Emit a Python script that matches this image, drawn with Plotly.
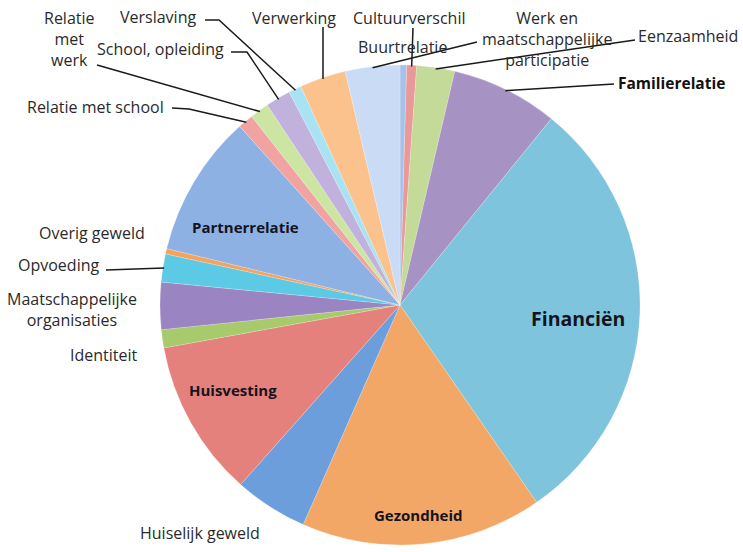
import math
import plotly.graph_objects as go

# ---- data (slice sizes, in degrees of 360) ----
categories = ["Buurtrelatie", "Cultuurverschil", "Eenzaamheid", "Familierelatie",
              "Financiën", "Gezondheid", "Huiselijk geweld", "Huisvesting",
              "Identiteit", "Maatschappelijke organisaties", "Opvoeding",
              "Overig geweld", "Partnerrelatie", "Relatie met school",
              "Relatie met werk", "School, opleiding", "Verslaving", "Verwerking",
              "Werk en maatschappelijke participatie"]
values = [1.6, 2.4, 9.2, 25.9, 106.2, 58.5, 17.8, 38.1, 4.4, 11.4, 6.8, 1.3,
          34.5, 3.7, 4.6, 6.1, 3.1, 11.2, 13.2]

colors = ["#a7c2ea", "#e99a98", "#c3da98", "#a793c3", "#7ec4dc", "#f3a766",
          "#6d9edc", "#e5817c", "#a7ca6c", "#9a85c2", "#5ccae4", "#f5a35c",
          "#8eb1e3", "#f0a3a1", "#cde5a2", "#c1b2dd", "#a9e2f2", "#fbc28e",
          "#cadcf5"]

# ---- layout (pixels) ----
W, H = 743, 552
CX, CY, R = 400, 305, 240
ML, MT = CX - R, CY - R
MR, MB = W - (CX + R), H - (CY + R)


def px(x):
    return (x - ML) / (2 * R)


def py(y):
    return (MT + 2 * R - y) / (2 * R)


total = sum(values)
mids = {}
acc = 0.0
for c, v in zip(categories, values):
    mids[c] = (acc + v / 2) / total * 2 * math.pi
    acc += v


def edge(cat, rr=1.0):
    a = mids[cat]
    return CX + R * rr * math.sin(a), CY - R * rr * math.cos(a)


fig = go.Figure(go.Pie(
    labels=categories, values=values, sort=False, direction="clockwise",
    rotation=0, textinfo="none", hoverinfo="label+percent",
    marker=dict(colors=colors, line=dict(color="rgba(255,255,255,0.4)", width=0.5)),
    showlegend=False,
))

FONT = "Open Sans"
FS = 16
annots = []
shapes = []

# outside labels: (category, text, x, y, xanchor, leader start points)
outside = [
    ("Cultuurverschil", "Cultuurverschil", 409, 18, "center", [(413, 28)]),
    ("Buurtrelatie", "Buurtrelatie", 402, 47, "center", None),
    ("Werk en maatschappelijke participatie", "Werk en<br>maatschappelijke<br>participatie",
     547, 39, "center", [(477, 42)]),
    ("Eenzaamheid", "Eenzaamheid", 740, 36, "right", [(635, 40)]),
    ("Verwerking", "Verwerking", 294, 18, "center", [(323, 27)]),
    ("Verslaving", "Verslaving", 158, 17, "center", [(205, 20), (219, 20)]),
    ("School, opleiding", "School, opleiding", 160, 49, "center", [(231, 52), (247, 52)]),
    ("Relatie met werk", "Relatie<br>met<br>werk", 69, 39, "center", [(97, 65)]),
    ("Relatie met school", "Relatie met school", 95, 107, "center", [(172, 108), (189, 109)]),
    ("Overig geweld", "Overig geweld", 92, 233, "center", None),
    ("Opvoeding", "Opvoeding", 58, 265, "center", [(106, 270)]),
    ("Maatschappelijke organisaties", "Maatschappelijke<br>organisaties", 72, 309, "center", None),
    ("Identiteit", "Identiteit", 104, 355, "center", None),
    ("Huiselijk geweld", "Huiselijk geweld", 200, 533, "center", None),
]

for cat, txt, x, y, xa, lead in outside:
    annots.append(dict(text=txt, x=px(x), y=py(y), xref="paper", yref="paper",
                       xanchor=xa, yanchor="middle", showarrow=False,
                       font=dict(family=FONT, size=FS, color="#2a2a2a")))
    if lead:
        ex, ey = edge(cat, 0.995)
        pts = lead + [(ex, ey)]
        path = "M " + " L ".join(f"{px(a):.5f},{py(b):.5f}" for a, b in pts)
        shapes.append(dict(type="path", path=path, xref="paper", yref="paper",
                           line=dict(color="#1a1a1a", width=1.5)))

# Familierelatie (bold, outside)
annots.append(dict(text="<b>Familierelatie</b>", x=px(616), y=py(83), xref="paper",
                   yref="paper", xanchor="left", yanchor="middle", showarrow=False,
                   font=dict(family=FONT, size=15.5, color="#111111")))
fx, fy = edge("Familierelatie", 0.995)
shapes.append(dict(type="path",
                   path=f"M {px(614):.5f},{py(84):.5f} L {px(fx):.5f},{py(fy):.5f}",
                   xref="paper", yref="paper", line=dict(color="#1a1a1a", width=1.5)))

# inside bold labels
inside = [("Financiën", 578, 318, 19.5), ("Partnerrelatie", 245, 227, 15),
          ("Huisvesting", 233, 390, 15), ("Gezondheid", 418, 515, 15)]
for txt, x, y, s in inside:
    annots.append(dict(text=f"<b>{txt}</b>", x=px(x), y=py(y), xref="paper",
                       yref="paper", xanchor="center", yanchor="middle",
                       showarrow=False, font=dict(family=FONT, size=s, color="#14141e")))

fig.update_layout(
    width=W, height=H, margin=dict(l=ML, r=MR, t=MT, b=MB),
    paper_bgcolor="white", plot_bgcolor="white",
    annotations=annots, shapes=shapes,
)

fig.write_html("out.html")
